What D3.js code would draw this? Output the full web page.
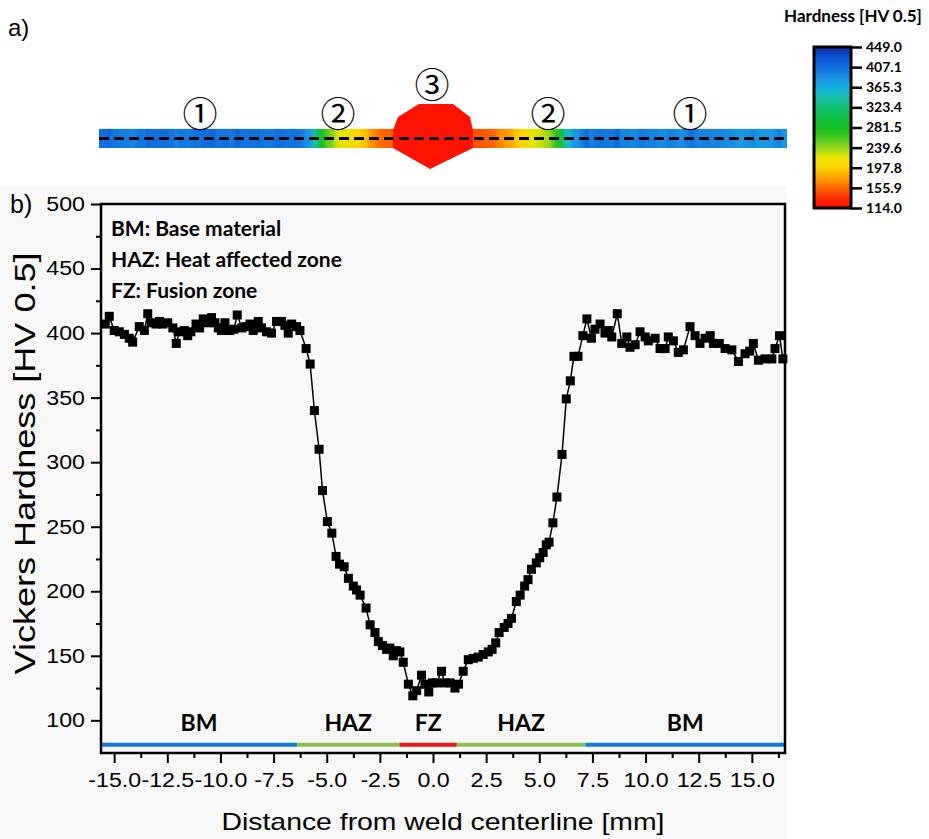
<!DOCTYPE html>
<html>
<head>
<meta charset="utf-8">
<script src="https://cdn.jsdelivr.net/npm/d3@7"></script>
<style>
  body { margin: 0; background: #ffffff; }
  svg { display: block; }
</style>
</head>
<body>
<svg id="chart" width="929" height="839"></svg>
<script>
// hardness profile across the weld
const distMm = [
  -15.42, -15.23, -15.00, -14.76, -14.52, -14.29, -14.13, -13.82, -13.58, -13.42,
  -13.26, -13.03, -12.87, -12.71, -12.48, -12.24, -12.08, -11.93, -11.70, -11.54,
  -11.39, -11.15, -10.98, -10.81, -10.62, -10.42, -10.26, -10.10, -9.95, -9.79,
  -9.56, -9.37, -9.21, -8.99, -8.80, -8.61, -8.46, -8.22, -8.07, -7.83,
  -7.60, -7.36, -7.13, -6.97, -6.81, -6.65, -6.42, -6.26, -5.97, -5.78,
  -5.58, -5.36, -5.20, -4.97, -4.76, -4.56, -4.40, -4.18, -3.98, -3.75,
  -3.60, -3.43, -3.15, -2.96, -2.73, -2.57, -2.38, -2.18, -2.03, -1.87,
  -1.72, -1.56, -1.40, -1.16, -0.95, -0.77, -0.54, -0.38, -0.20, -0.03,
  0.17, 0.40, 0.55, 0.80, 1.03, 1.20, 1.42, 1.66, 1.89, 2.13,
  2.36, 2.60, 2.78, 2.95, 3.11, 3.35, 3.53, 3.69, 3.92, 4.10,
  4.31, 4.47, 4.63, 4.86, 5.02, 5.18, 5.33, 5.46, 5.64, 5.83,
  6.07, 6.27, 6.46, 6.63, 6.82, 7.05, 7.24, 7.45, 7.62, 7.86,
  8.09, 8.25, 8.41, 8.67, 8.88, 9.12, 9.27, 9.51, 9.74, 9.98,
  10.13, 10.45, 10.68, 10.92, 11.07, 11.31, 11.54, 11.78, 12.09, 12.33,
  12.56, 12.80, 13.04, 13.19, 13.47, 13.74, 14.06, 14.37, 14.68, 14.90,
  15.07, 15.31, 15.62, 15.94, 16.09, 16.30, 16.46
];
const hardness = [
  407, 413, 402, 401, 399, 396, 393, 405, 402, 415,
  408, 407, 409, 407, 408, 404, 392, 401, 402, 398,
  401, 407, 404, 411, 408, 412, 408, 404, 402, 408,
  402, 403, 414, 404, 405, 407, 402, 409, 404, 401,
  400, 409, 409, 406, 400, 407, 405, 402, 388, 376,
  340, 310, 278, 254, 245, 227, 221, 219, 210, 204,
  201, 197, 187, 174, 168, 161, 158, 155, 156, 150,
  154, 153, 145, 128, 119, 123, 135, 128, 122, 129,
  129, 138, 129, 129, 125, 128, 138, 147, 148, 149,
  151, 153, 155, 160, 168, 172, 175, 179, 192, 197,
  204, 209, 217, 222, 226, 230, 236, 238, 253, 273,
  306, 349, 363, 382, 382, 398, 411, 396, 403, 407,
  400, 402, 397, 415, 392, 397, 389, 391, 401, 397,
  394, 396, 388, 388, 397, 394, 385, 387, 405, 398,
  392, 396, 398, 392, 392, 388, 387, 378, 384, 386,
  392, 379, 380, 380, 388, 398, 380
];

// zones along the bottom of panel b
const zoneNames = ["BM", "HAZ", "FZ", "HAZ", "BM"];
const zoneEdges = [-15.62, -6.4, -1.58, 1.12, 7.17, 16.56];
const zoneColors = ["#1479e0", "#8dc14f", "#f01414", "#8dc14f", "#1479e0"];

const legendLines = ["BM: Base material", "HAZ: Heat affected zone", "FZ: Fusion zone"];

const xMajorTicks = d3.range(-15, 15.01, 2.5);
const xMinorTicks = d3.range(-16.25, 16.3, 1.25);
const yMajorTicks = d3.range(100, 501, 50);
const yMinorTicks = d3.range(100, 501, 25);

// colour bar of panel a
const cbTicks = [449.0, 407.1, 365.3, 323.4, 281.5, 239.6, 197.8, 155.9, 114.0];
const cmapValues = [114, 135, 155, 176, 197, 220, 239, 260, 281, 300, 323, 345, 365, 385, 407, 430, 449];
const cmapColors = ["#ff0000", "#ff3200", "#ff6200", "#ffa000", "#ffd200", "#e6e400", "#94d81e", "#44c81e", "#12c020", "#10c040",
                    "#10c074", "#1cc0b4", "#10b0e2", "#1a90e2", "#1070e0", "#0c50d0", "#1a2aa0"];

// circled region numbers over the cross-section
const regionX = [-10.96, -4.47, -0.05, 5.41, 12.09];
const regionLabels = ["\u2460", "\u2461", "\u2462", "\u2461", "\u2460"];
const regionY = [1.7, 1.7, 3.1, 1.7, 1.7];

// weld bead outline (mm, mm above plate bottom)
const beadX = [-1.88, -1.65, -0.66, 0.94, 1.74, 1.88, 1.88, -0.14, -1.88];
const beadY = [0.85, 1.46, 2.07, 2.07, 1.46, 0.85, 0.0, -0.99, 0.0];
const plateThick = 0.9;

const svg = d3.select("#chart");
const cmap = d3.scaleLinear().domain(cmapValues).range(cmapColors).clamp(true);

const x = d3.scaleLinear().domain([-15.62, 16.56]).range([101, 785]);
const y = d3.scaleLinear().domain([74.7, 500]).range([753, 204]);
// cross-section depth, same mm-per-pixel as x
const ys = d3.scaleLinear().domain([0, 1]).range([148, 148 - (x(1) - x(0))]);

const points = distMm.map((d, i) => ({ d: d, hv: hardness[i] }));

// ---------- panel b background
svg.append("rect")
  .attr("x", 0).attr("y", 186).attr("width", 787).attr("height", 653)
  .attr("fill", "#f8f8f8");

// ---------- panel a
svg.append("text")
  .attr("x", 8).attr("y", 36)
  .style("font-family", "Liberation Sans, Arial, sans-serif")
  .style("font-size", "24px")
  .text("a)");

const defs = svg.append("defs");
const stripGrad = defs.append("linearGradient")
  .attr("id", "stripGrad")
  .attr("gradientUnits", "userSpaceOnUse")
  .attr("x1", x.range()[0]).attr("x2", x.range()[1])
  .attr("y1", 0).attr("y2", 0);
stripGrad.selectAll("stop")
  .data(points).enter()
  .append("stop")
  .attr("offset", d => (x(d.d) - x.range()[0]) / (x.range()[1] - x.range()[0]))
  .attr("stop-color", d => cmap(d.hv));

svg.append("rect")
  .attr("x", x.range()[0] - 2)
  .attr("y", ys(plateThick))
  .attr("width", x.range()[1] - x.range()[0] + 4)
  .attr("height", ys(0) - ys(plateThick))
  .attr("fill", "url(#stripGrad)");

const bead = beadX.map((v, i) => [x(v), ys(beadY[i])]);
svg.append("path")
  .attr("d", d3.line()(bead) + "Z")
  .attr("fill", cmap(122));

svg.append("line")
  .attr("x1", x.range()[0] - 2).attr("x2", x.range()[1] + 2)
  .attr("y1", ys(plateThick / 2)).attr("y2", ys(plateThick / 2))
  .attr("stroke", "#000")
  .attr("stroke-width", 3)
  .attr("stroke-dasharray", "10,5");

svg.selectAll(".region")
  .data(regionLabels).enter()
  .append("text")
  .attr("class", "region")
  .attr("x", (d, i) => x(regionX[i]))
  .attr("y", (d, i) => ys(regionY[i]))
  .attr("text-anchor", "middle")
  .attr("dominant-baseline", "central")
  .style("font-family", "Noto Sans CJK JP, DejaVu Sans, sans-serif")
  .style("font-size", "35px")
  .text(d => d);

// colour bar
const cb = d3.scaleLinear().domain([114, 449]).range([208, 47]);
const cbGrad = defs.append("linearGradient")
  .attr("id", "cbGrad")
  .attr("x1", 0).attr("x2", 0).attr("y1", 1).attr("y2", 0);
cbGrad.selectAll("stop")
  .data(cmapValues).enter()
  .append("stop")
  .attr("offset", d => (d - 114) / (449 - 114))
  .attr("stop-color", d => cmap(d));

svg.append("rect")
  .attr("x", 814).attr("y", cb(449))
  .attr("width", 37).attr("height", cb(114) - cb(449))
  .attr("fill", "url(#cbGrad)")
  .attr("stroke", "#000").attr("stroke-width", 3);

const cbAxis = svg.append("g")
  .attr("transform", "translate(851,0)")
  .call(d3.axisRight(cb).tickValues(cbTicks).tickSize(11).tickPadding(4).tickFormat(d3.format(".1f")));
cbAxis.select(".domain").remove();
cbAxis.selectAll("line").attr("stroke-width", 2.5);
cbAxis.selectAll("text")
  .style("font-family", "Lato, sans-serif")
  .style("font-weight", "bold")
  .style("font-size", "14px");

svg.append("text")
  .attr("x", 853).attr("y", 22)
  .attr("text-anchor", "middle")
  .style("font-family", "Lato, sans-serif")
  .style("font-weight", "bold")
  .style("font-size", "17px")
  .text("Hardness [HV 0.5]");

// ---------- panel b
svg.append("text")
  .attr("x", 10).attr("y", 213)
  .style("font-family", "Liberation Sans, Arial, sans-serif")
  .style("font-size", "25px")
  .text("b)");

// zone bars and their names
svg.selectAll(".zone")
  .data(zoneNames).enter()
  .append("line")
  .attr("class", "zone")
  .attr("x1", (d, i) => x(zoneEdges[i]))
  .attr("x2", (d, i) => x(zoneEdges[i + 1]))
  .attr("y1", y(81)).attr("y2", y(81))
  .attr("stroke", (d, i) => zoneColors[i])
  .attr("stroke-width", 4);

svg.selectAll(".zoneLabel")
  .data(zoneNames).enter()
  .append("text")
  .attr("class", "zoneLabel")
  .attr("x", (d, i) => x((zoneEdges[i] + zoneEdges[i + 1]) / 2))
  .attr("y", y(92))
  .attr("text-anchor", "middle")
  .style("font-family", "Lato, sans-serif")
  .style("font-weight", "bold")
  .style("font-size", "23px")
  .text(d => d);

// profile line and square markers
svg.append("path")
  .datum(points)
  .attr("fill", "none")
  .attr("stroke", "#000")
  .attr("stroke-width", 1.5)
  .attr("d", d3.line().x(d => x(d.d)).y(d => y(d.hv)));

const ms = 9;
svg.selectAll(".pt")
  .data(points).enter()
  .append("rect")
  .attr("class", "pt")
  .attr("x", d => x(d.d) - ms / 2)
  .attr("y", d => y(d.hv) - ms / 2)
  .attr("width", ms).attr("height", ms)
  .attr("fill", "#000");

// legend text
svg.selectAll(".legend")
  .data(legendLines).enter()
  .append("text")
  .attr("class", "legend")
  .attr("x", 111)
  .attr("y", (d, i) => 236 + i * 31)
  .style("font-family", "Lato, sans-serif")
  .style("font-weight", "bold")
  .style("font-size", "21px")
  .text(d => d);

// axes
const tickFont = g => g.selectAll("text")
  .style("font-family", "Liberation Sans, Arial, sans-serif")
  .style("font-size", "20px")
  .attr("fill", "#000");

const xAxis = svg.append("g")
  .attr("transform", `translate(0,${y.range()[0]})`)
  .call(d3.axisBottom(x).tickValues(xMajorTicks).tickSize(10).tickPadding(10).tickFormat(d => d.toFixed(1)));
xAxis.select(".domain").remove();
tickFont(xAxis);
xAxis.selectAll("text").attr("transform", "scale(1.16,1)");
xAxis.selectAll("line").attr("stroke-width", 2);

const xMinor = svg.append("g")
  .attr("transform", `translate(0,${y.range()[0]})`)
  .call(d3.axisBottom(x).tickValues(xMinorTicks.filter(v => v > x.domain()[0] && v < x.domain()[1] && Math.abs(v / 2.5 - Math.round(v / 2.5)) > 0.01)).tickSize(5).tickFormat(""));
xMinor.select(".domain").remove();
xMinor.selectAll("line").attr("stroke-width", 2);

const yAxis = svg.append("g")
  .attr("transform", `translate(${x.range()[0]},0)`)
  .call(d3.axisLeft(y).tickValues(yMajorTicks).tickSize(10).tickPadding(5));
yAxis.select(".domain").remove();
tickFont(yAxis);
yAxis.selectAll("text").attr("x", -16 / 1.16).attr("transform", "scale(1.16,1)");
yAxis.selectAll("line").attr("stroke-width", 2);

const yMinor = svg.append("g")
  .attr("transform", `translate(${x.range()[0]},0)`)
  .call(d3.axisLeft(y).tickValues(yMinorTicks.filter(v => v % 50 !== 0)).tickSize(5).tickFormat(""));
yMinor.select(".domain").remove();
yMinor.selectAll("line").attr("stroke-width", 2);

// frame
svg.append("rect")
  .attr("x", x.range()[0]).attr("y", y.range()[1])
  .attr("width", x.range()[1] - x.range()[0])
  .attr("height", y.range()[0] - y.range()[1])
  .attr("fill", "none")
  .attr("stroke", "#000")
  .attr("stroke-width", 2.5);

// axis titles
svg.append("text")
  .attr("x", (x.range()[0] + x.range()[1]) / 2)
  .attr("y", 830)
  .attr("text-anchor", "middle")
  .attr("textLength", 443)
  .attr("lengthAdjust", "spacingAndGlyphs")
  .style("font-family", "Liberation Sans, Arial, sans-serif")
  .style("font-size", "24px")
  .text("Distance from weld centerline [mm]");

svg.append("text")
  .attr("transform", `translate(35,${(y.range()[0] + y.range()[1]) / 2 - 15}) rotate(-90)`)
  .attr("text-anchor", "middle")
  .attr("textLength", 422)
  .attr("lengthAdjust", "spacingAndGlyphs")
  .style("font-family", "Liberation Sans, Arial, sans-serif")
  .style("font-size", "30px")
  .text("Vickers Hardness [HV 0.5]");
</script>
</body>
</html>
